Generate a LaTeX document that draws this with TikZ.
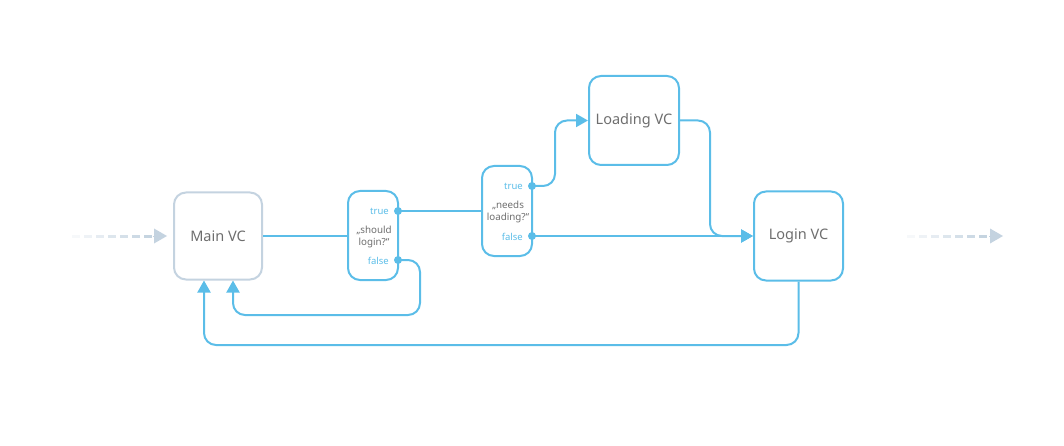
\documentclass[tikz,border=0pt]{standalone}
\usepackage{fontspec}
\setmainfont{Noto Sans}
\usetikzlibrary{arrows.meta,calc}
\definecolor{lb}{HTML}{5BBDE8}
\definecolor{gb}{HTML}{C4D3E0}
\definecolor{tx}{HTML}{6E6E6E}
\tikzset{
  vc/.style={draw=lb, line width=2pt, rounded corners=12pt, text=tx, font=\fontsize{14.5}{16}\selectfont, inner sep=0pt},
  dec/.style={draw=lb, line width=2pt, rounded corners=12pt, minimum width=50pt, text=tx, inner sep=0pt},
  conn/.style={draw=lb, line width=2pt, rounded corners=12pt},
  arr/.style={conn, -{Triangle[length=12pt,width=13pt]}},
  dot/.style={circle, fill=lb, inner sep=0pt, minimum size=8pt},
  lab/.style={text=lb, font=\fontsize{9.5}{11}\selectfont, anchor=east, inner sep=0pt},
  qtext/.style={text=tx, font=\fontsize{9.8}{12}\selectfont, align=center, inner sep=0pt},
  fade/.style={draw=gb, line width=3pt},
}
\begin{document}
\begin{tikzpicture}[x=1pt,y=-1pt]
\useasboundingbox (0,0) rectangle (1064,446);
% nodes
\node[vc, draw=gb, minimum width=88pt, minimum height=87pt] (main) at (218,236) {Main VC};
\node[dec, minimum height=89pt] (dec1) at (373,235.5) {};
\node[dec, minimum height=90pt] (dec2) at (507,211) {};
\node[vc, minimum width=90pt, minimum height=89pt] (loading) at (634,120.5) {Loading VC};
\node[vc, minimum width=89pt, minimum height=89pt] (login) at (798.5,236) {Login VC};
% decision labels
\node[qtext] (q1) at (374,237) {„should\\login?“};
\node[qtext] (q2) at (508,212) {„needs\\loading?“};
\node[dot] (d1t) at (398,211) {};
\node[dot] (d1f) at (398,260) {};
\node[dot] (d2t) at (532,186) {};
\node[dot] (d2f) at (532,236) {};
\node[lab] (l1t) at (389,211.5) {true};
\node[lab] (l1f) at (389,261) {false};
\node[lab] (l2t) at (523,186.5) {true};
\node[lab] (l2f) at (523,236.5) {false};
% connectors
\draw[conn] (main.east) -- (main.east -| dec1.west);
\draw[conn] (d1t.center) -- (d1t.center -| dec2.west);
\draw[arr] (d2t.center) -| (555,150) |- (loading.west);
\draw[arr] (d2f.center) -- (login.west);
\draw[arr] (loading.east) -| (710,200) |- (login.west);
\draw[arr] (d1f.center) -| (420,290) |- (300,315) -| ($(main.south)+(15,0)$);
\draw[arr] (login.south) |- (500,345) -| ($(main.south)+(-14,0)$);
% fading incoming / outgoing arrows
\coordinate (inS) at (72,236);
\coordinate (outS) at (907,236);
\coordinate (outE) at (1003,236);
\foreach \i in {0,...,6} {
  \draw[fade, draw opacity={0.15+0.14*\i}] ($(inS)+(12*\i,0)$) -- ++(7.5,0);
  \draw[fade, draw opacity={0.15+0.14*\i}] ($(outS)+(12*\i,0)$) -- ++(7.5,0);
}
\draw[draw=gb, line width=0pt, -{Triangle[length=13pt,width=15pt]}, fill=gb] ($(main.west)+(-20,0)$) -- ($(main.west)+(-6,0)$);
\draw[draw=gb, line width=0pt, -{Triangle[length=13pt,width=15pt]}, fill=gb] ($(outE)+(-14,0)$) -- (outE);
\end{tikzpicture}
\end{document}
